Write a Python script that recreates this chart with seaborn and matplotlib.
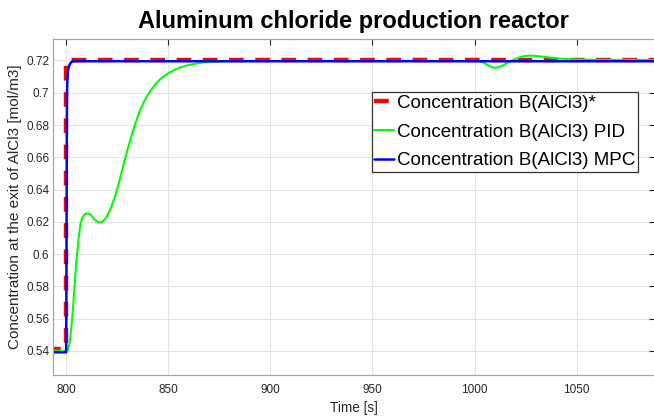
import matplotlib
matplotlib.use("Agg")
import matplotlib.pyplot as plt
import seaborn as sns
import pandas as pd

# reference (setpoint)
t_ref = [790, 800, 800, 1090]
c_ref = [0.541, 0.541, 0.7205, 0.7205]

# MPC response
t_mpc = [790, 800, 800.1, 800.2, 800.3, 800.4, 800.6, 800.8, 801, 801.5, 802, 802.5, 803, 804, 1090]
c_mpc = [0.5392, 0.5392, 0.575, 0.62, 0.665, 0.70, 0.708, 0.712, 0.7145, 0.717, 0.718, 0.719,
         0.7192, 0.7195, 0.7195]

# PID response
t_pid = [790, 800, 800.5, 801, 801.5, 802, 802.5, 803, 803.5, 804, 804.5, 805, 806, 807, 808,
         809, 810, 811, 812, 813, 814, 815, 816, 817, 818, 819, 820, 821, 822, 823, 824, 825,
         826, 828, 830, 832, 834, 836, 838, 840, 842, 844, 846, 848, 850, 853, 856, 860, 865,
         870, 880, 900, 1000, 1002, 1004, 1006, 1008, 1009.5, 1011, 1013, 1015, 1017, 1019,
         1021, 1023, 1025, 1027, 1030, 1033, 1036, 1040, 1045, 1050, 1060, 1090]
c_pid = [0.5401, 0.5401, 0.5403, 0.5415, 0.544, 0.548, 0.554, 0.561, 0.569, 0.578, 0.587,
         0.596, 0.609, 0.6185, 0.6228, 0.6246, 0.6252, 0.6251, 0.6243, 0.623, 0.6215, 0.6202,
         0.6196, 0.6197, 0.6205, 0.6218, 0.6236, 0.626, 0.629, 0.6325, 0.636, 0.6405, 0.645,
         0.655, 0.6645, 0.6735, 0.6815, 0.6885, 0.6942, 0.6988, 0.7025, 0.7057, 0.7083,
         0.7104, 0.7121, 0.7141, 0.7157, 0.7172, 0.7184, 0.7191, 0.7196, 0.7197, 0.7197,
         0.7195, 0.7188, 0.7175, 0.7161, 0.7155, 0.7156, 0.7164, 0.7177, 0.7191, 0.7204,
         0.7215, 0.7223, 0.7228, 0.723, 0.7228, 0.7224, 0.7219, 0.7214, 0.7209, 0.7206,
         0.7204, 0.7203]

x_ticks = [800, 850, 900, 950, 1000, 1050]
y_ticks = [0.54, 0.56, 0.58, 0.6, 0.62, 0.64, 0.66, 0.68, 0.7, 0.72]
y_ticklabels = ["0.54", "0.56", "0.58", "0.6", "0.62", "0.64", "0.66", "0.68", "0.7", "0.72"]

sns.set_style("whitegrid")
plt.rcParams["font.family"] = ["Liberation Sans", "DejaVu Sans"]

df_ref = pd.DataFrame({"t": t_ref, "c": c_ref})
df_pid = pd.DataFrame({"t": t_pid, "c": c_pid})
df_mpc = pd.DataFrame({"t": t_mpc, "c": c_mpc})

fig = plt.figure(figsize=(6.54, 4.19), dpi=100)
ax = fig.add_axes([0.0815, 0.1057, 0.9193, 0.8005])

sns.lineplot(data=df_ref, x="t", y="c", ax=ax, color="#ff0000", lw=3.2, sort=False,
             estimator=None, linestyle=(0, (3.3, 2.6)), label="Concentration B(AlCl3)*")
sns.lineplot(data=df_pid, x="t", y="c", ax=ax, color="#00ff00", lw=1.5, sort=False,
             estimator=None, label="Concentration B(AlCl3) PID")
sns.lineplot(data=df_mpc, x="t", y="c", ax=ax, color="#0000ff", lw=1.8, sort=False,
             estimator=None, label="Concentration B(AlCl3) MPC")

ax.set_xlim(793.7, 1088.1)
ax.set_ylim(0.5253, 0.7331)
ax.set_xticks(x_ticks)
ax.set_yticks(y_ticks)
ax.set_yticklabels(y_ticklabels)
ax.grid(True, color="#e3e3e3", lw=0.8)
for s in ax.spines.values():
    s.set_visible(True)
    s.set_color("#a6a6a6")
    s.set_linewidth(0.9)
ax.tick_params(direction="in", length=4, width=0.8, color="#262626", labelcolor="#262626",
               labelsize=8.5, top=True, right=True)
ax.tick_params(axis="x", pad=7)
ax.tick_params(axis="y", pad=3)

ax.set_xlabel("Time [s]", fontsize=9.8, color="#262626", labelpad=3)
ax.set_ylabel("Concentration at the exit of AlCl3 [mol/m3]", fontsize=11, color="#262626",
              labelpad=3)
ax.set_title("Aluminum chloride production reactor", fontsize=17, fontweight="bold", pad=8,
             color="black")

leg = ax.legend(loc="upper right", bbox_to_anchor=(638 / 654, 1 - 92 / 419),
                bbox_transform=fig.transFigure, borderaxespad=0, fontsize=13.5,
                handlelength=1.05, handletextpad=0.15, borderpad=0.15, labelspacing=0.62,
                fancybox=False, framealpha=1, edgecolor="#333333", labelcolor="black")
leg.get_frame().set_linewidth(0.9)

fig.savefig("out.png", dpi=100)
